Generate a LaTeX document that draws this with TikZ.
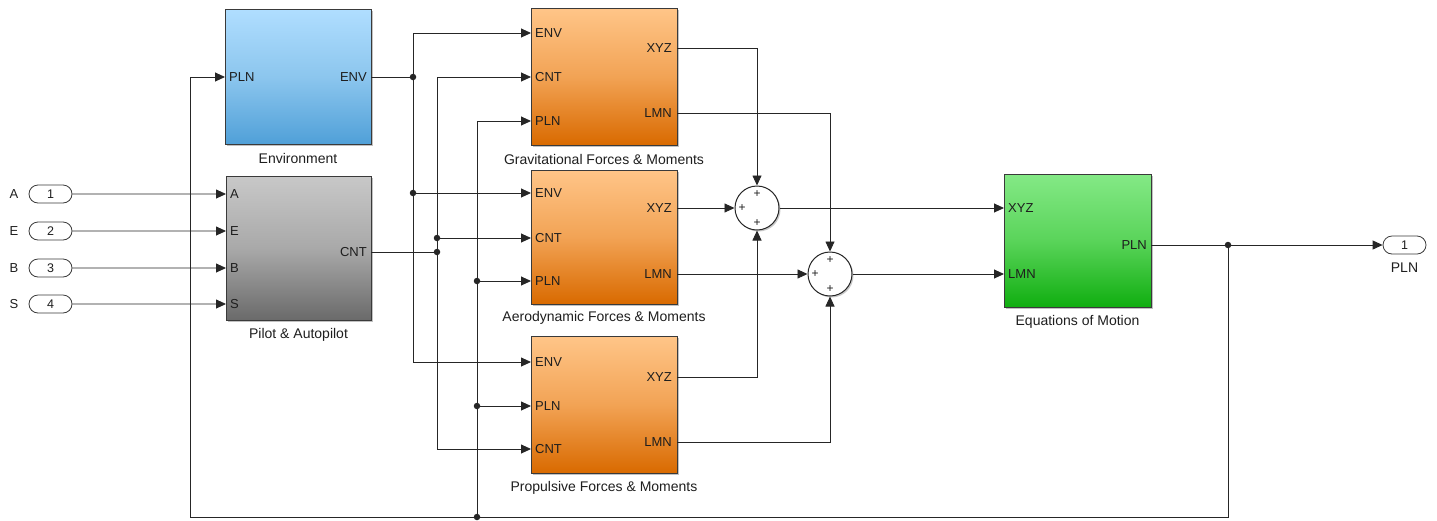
\documentclass[tikz,border=0pt]{standalone}
\usepackage{fontspec}
\setmainfont{Liberation Sans}
\usetikzlibrary{arrows.meta,shadows,shapes.misc}
\definecolor{wireink}{HTML}{262626}
\definecolor{blockedge}{HTML}{3A3A3A}
\definecolor{blockink}{HTML}{1E1E1E}
\definecolor{envtop}{HTML}{B0DEFF}
\definecolor{envmid}{HTML}{8CC6EE}
\definecolor{envbot}{HTML}{50A0D8}
\definecolor{pilottop}{HTML}{C8C8C8}
\definecolor{pilotmid}{HTML}{A9A9A9}
\definecolor{pilotbot}{HTML}{6A6A6A}
\definecolor{forcetop}{HTML}{FFC588}
\definecolor{forcemid}{HTML}{F2A355}
\definecolor{forcebot}{HTML}{D96A00}
\definecolor{eomtop}{HTML}{84E986}
\definecolor{eommid}{HTML}{5AD45A}
\definecolor{eombot}{HTML}{10AE10}

\begin{document}
\begin{tikzpicture}[
  x=1pt,
  y=-1pt,
  every node/.style={font=\fontsize{13}{15}\selectfont, text=blockink},
  block/.style={draw=blockedge, line width=0.8pt, inner sep=0pt,
    drop shadow={shadow xshift=2pt, shadow yshift=-2pt, opacity=0.35, fill=black!70}},
  envblock/.style={block, top color=envtop, bottom color=envbot, middle color=envmid},
  pilotblock/.style={block, top color=pilottop, bottom color=pilotbot, middle color=pilotmid},
  forceblock/.style={block, top color=forcetop, bottom color=forcebot, middle color=forcemid,
    minimum width=146pt},
  eomblock/.style={block, top color=eomtop, bottom color=eombot, middle color=eommid},
  sumblock/.style={circle, draw=wireink, fill=white, line width=1pt, minimum size=44pt,
    inner sep=0pt, drop shadow={shadow xshift=1.5pt, shadow yshift=-1.5pt, opacity=0.3, fill=black!70}},
  ioport/.style={rounded rectangle, draw=blockedge, fill=white, line width=0.8pt,
    minimum width=43pt, minimum height=18pt, inner sep=0pt, font=\fontsize{12.5}{14}\selectfont},
  portlbl/.style={inner sep=0pt, font=\fontsize{13}{15}\selectfont},
  blocktitle/.style={inner sep=0pt, font=\fontsize{14}{16}\selectfont},
  sgn/.style={inner sep=0pt, font=\fontsize{12}{12}\selectfont},
  wire/.style={draw=wireink, line width=0.9pt},
  arr/.style={wire, -{Triangle[length=10pt, width=9pt]}},
  jdot/.style={circle, fill=wireink, inner sep=0pt, minimum size=6.5pt}
]
  \useasboundingbox (0,0) rectangle (1437,520);

  % blocks
  \node[envblock, minimum width=146pt, minimum height=135pt] (env) at (298,76.5) {};
  \node[pilotblock, minimum width=145pt, minimum height=144pt] (pilot) at (298.5,248) {};
  \node[forceblock, minimum height=137pt] (grav) at (604,76.5) {};
  \node[forceblock, minimum height=134pt] (aero) at (604,237) {};
  \node[forceblock, minimum height=137pt] (prop) at (604,404.5) {};
  \node[eomblock, minimum width=147pt, minimum height=133pt] (eom) at (1077.5,240.5) {};

  \node[blocktitle] (env-t) at (298,158) {Environment};
  \node[blocktitle] (pilot-t) at (298.5,335) {Pilot \& Autopilot};
  \node[blocktitle] (grav-t) at (604,159) {Gravitational Forces \& Moments};
  \node[blocktitle] (aero-t) at (604,318) {Aerodynamic Forces \& Moments};
  \node[blocktitle] (prop-t) at (604,488) {Propulsive Forces \& Moments};
  \node[blocktitle] (eom-t) at (1077.5,322) {Equations of Motion};

  % ports
  \coordinate (env-pln) at (225,77);
  \coordinate (env-out) at (371,77);
  \coordinate (pilot-cnt) at (371,252);
  \coordinate (grav-env) at (531,33);
  \coordinate (grav-cnt) at (531,77);
  \coordinate (grav-pln) at (531,121);
  \coordinate (grav-xyz) at (677,48);
  \coordinate (grav-lmn) at (677,113);
  \coordinate (aero-env) at (531,193);
  \coordinate (aero-cnt) at (531,238);
  \coordinate (aero-pln) at (531,281);
  \coordinate (aero-xyz) at (677,208);
  \coordinate (aero-lmn) at (677,274);
  \coordinate (prop-env) at (531,362);
  \coordinate (prop-pln) at (531,406);
  \coordinate (prop-cnt) at (531,449);
  \coordinate (prop-xyz) at (677,377);
  \coordinate (prop-lmn) at (677,442);
  \coordinate (eom-xyz) at (1004,208);
  \coordinate (eom-lmn) at (1004,274);
  \coordinate (eom-pln) at (1151,245);

  \node[portlbl, anchor=west] (env-pln-l) at ([xshift=4pt]env-pln) {PLN};
  \node[portlbl, anchor=east] (env-out-l) at ([xshift=-4pt]env-out) {ENV};
  \node[portlbl, anchor=east] (pilot-cnt-l) at ([xshift=-4pt]pilot-cnt) {CNT};
  \foreach \blk/\a/\b/\c/\la/\lb/\lc in {grav/env/cnt/pln/ENV/CNT/PLN,
      aero/env/cnt/pln/ENV/CNT/PLN, prop/env/pln/cnt/ENV/PLN/CNT} {
    \node[portlbl, anchor=west] (\blk-in1) at ([xshift=4pt]\blk-\a) {\la};
    \node[portlbl, anchor=west] (\blk-in2) at ([xshift=4pt]\blk-\b) {\lb};
    \node[portlbl, anchor=west] (\blk-in3) at ([xshift=4pt]\blk-\c) {\lc};
    \node[portlbl, anchor=east] (\blk-out1) at ([xshift=-5pt]\blk-xyz) {XYZ};
    \node[portlbl, anchor=east] (\blk-out2) at ([xshift=-5pt]\blk-lmn) {LMN};
  }
  \node[portlbl, anchor=west] (eom-xyz-l) at ([xshift=4pt]eom-xyz) {XYZ};
  \node[portlbl, anchor=west] (eom-lmn-l) at ([xshift=4pt]eom-lmn) {LMN};
  \node[portlbl, anchor=east] (eom-pln-l) at ([xshift=-4pt]eom-pln) {PLN};

  % inports
  \foreach \n/\s/\y in {1/A/194, 2/E/231, 3/B/268, 4/S/304} {
    \node[ioport] (in\n) at (50.5,\y) {\n};
    \node[anchor=east, inner sep=0pt] (in\n-l) at ([xshift=-10pt]in\n.west) {\s};
    \coordinate (pilot-\s) at (226,\y);
    \node[portlbl, anchor=west] (pilot-\s-l) at ([xshift=4pt]pilot-\s) {\s};
    \draw[arr] (in\n) -- (pilot-\s);
  }

  % outport
  \node[ioport] (outp) at (1404.5,245) {1};
  \node[blocktitle] (outp-t) at (1404.5,268) {PLN};

  % sums
  \node[sumblock] (sumf) at (757,208) {};
  \node[sumblock] (summ) at (830,274) {};
  \foreach \s in {sumf, summ} {
    \node[sgn] (\s-l) at ([xshift=-15pt]\s) {+};
    \node[sgn] (\s-t) at ([yshift=14pt]\s) {+};
    \node[sgn] (\s-b) at ([yshift=-15pt]\s) {+};
  }

  % junctions
  \node[jdot] (jenv-a) at (413,77) {};
  \node[jdot] (jenv-b) at (413,193) {};
  \node[jdot] (jcnt-a) at (437,252) {};
  \node[jdot] (jcnt-b) at (437,238) {};
  \node[jdot] (jpln-a) at (477,281) {};
  \node[jdot] (jpln-b) at (477,406) {};
  \node[jdot] (jpln-bus) at (477,517) {};
  \node[jdot] (jpln-out) at (1228,245) {};
  \coordinate (fb-se) at (1228,517);
  \coordinate (fb-sw) at (190,517);

  % ENV bus
  \draw[wire] (env-out) -- (jenv-a);
  \draw[arr] (jenv-a) |- (grav-env);
  \draw[arr] (jenv-a) -- (jenv-b) -- (aero-env);
  \draw[arr] (jenv-b) |- (prop-env);

  % CNT bus
  \draw[wire] (pilot-cnt) -- (jcnt-a);
  \draw[arr] (jcnt-a) |- (grav-cnt);
  \draw[arr] (jcnt-b) -- (aero-cnt);
  \draw[arr] (jcnt-a) |- (prop-cnt);

  % PLN feedback
  \draw[wire] (eom-pln) -- (jpln-out);
  \draw[arr] (jpln-out) -- (outp);
  \draw[arr] (jpln-out) -- (fb-se) -- (fb-sw) |- (env-pln);
  \draw[arr] (jpln-bus) |- (grav-pln);
  \draw[arr] (jpln-a) -- (aero-pln);
  \draw[arr] (jpln-b) -- (prop-pln);

  % forces and moments
  \draw[arr] (grav-xyz) -| (sumf);
  \draw[arr] (aero-xyz) -- (sumf);
  \draw[arr] (prop-xyz) -| (sumf);
  \draw[arr] (sumf) -- (eom-xyz);
  \draw[arr] (grav-lmn) -| (summ);
  \draw[arr] (aero-lmn) -- (summ);
  \draw[arr] (prop-lmn) -| (summ);
  \draw[arr] (summ) -- (eom-lmn);
\end{tikzpicture}
\end{document}
